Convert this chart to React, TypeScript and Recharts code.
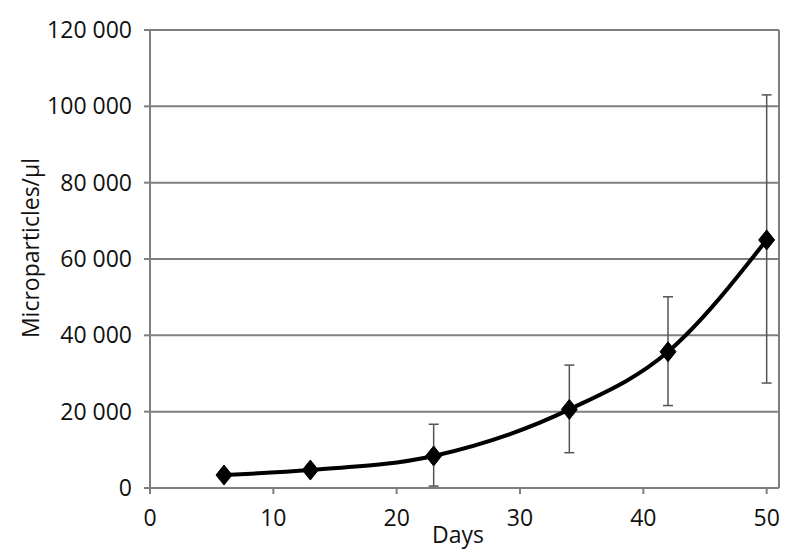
import React from 'react';
import { LineChart, Line, XAxis, YAxis, CartesianGrid, ErrorBar, ReferenceLine, Label } from 'recharts';

const days = [6, 13, 23, 34, 42, 50];
const values = [3400, 4700, 8400, 20600, 35700, 65000];
const errLow = [1000, 1000, 7900, 11350, 14100, 37500];
const errHigh = [1000, 1000, 8300, 11600, 14400, 38000];
const xTicks = [0, 10, 20, 30, 40, 50];
const yTicks = [0, 20000, 40000, 60000, 80000, 100000, 120000];
const xMax = 51;
const yMax = 120000;

const data = days.map((d, i) => ({ day: d, value: values[i], err: [errLow[i], errHigh[i]] }));

const FONT = '"Open Sans", sans-serif';
const FS = 23;
const fmt = (v: number) => String(v).replace(/\B(?=(\d{3})+(?!\d))/g, ' ');

const Diamond = (props: any) => {
  const { cx, cy } = props;
  if (cx == null || cy == null) return null;
  const hw = 8;
  const hh = 10;
  return (
    <polygon
      points={`${cx},${cy - hh} ${cx + hw},${cy} ${cx},${cy + hh} ${cx - hw},${cy}`}
      fill="#000"
      stroke="#000"
      strokeWidth={1}
    />
  );
};

const YLabel = () => (
  <text x={30} y={248} transform="rotate(-90 30 248)" textAnchor="middle" dominantBaseline="central" fontFamily={FONT} fontSize={FS} fill="#111">
    Microparticles/μl
  </text>
);

const XLabel = () => (
  <text x={458} y={534} textAnchor="middle" dominantBaseline="central" fontFamily={FONT} fontSize={FS} fill="#111">
    Days
  </text>
);

export default function App() {
  return (
    <div style={{ position: 'absolute', left: 0, top: 0, width: 800, height: 559, background: '#fff' }}>
      <LineChart width={800} height={559} data={data} margin={{ top: 30, right: 21, left: 0, bottom: 0 }}>
        <CartesianGrid vertical={false} stroke="#7f7f7f" strokeWidth={2} />
        <XAxis
          dataKey="day"
          type="number"
          domain={[0, xMax]}
          ticks={xTicks}
          height={71}
          tickSize={6}
          tickMargin={16}
          stroke="#7f7f7f"
          strokeWidth={2}
          tick={{ fill: '#111', fontFamily: FONT, fontSize: FS }}
          allowDataOverflow
        >
          <Label content={<XLabel />} />
        </XAxis>
        <YAxis
          type="number"
          domain={[0, yMax]}
          ticks={yTicks}
          width={150}
          tickSize={6}
          tickMargin={12}
          tickFormatter={fmt}
          stroke="#7f7f7f"
          strokeWidth={2}
          tick={{ fill: '#111', fontFamily: FONT, fontSize: FS }}
        >
          <Label content={<YLabel />} />
        </YAxis>
        <ReferenceLine x={xMax} stroke="#7f7f7f" strokeWidth={2} />
        <Line
          type="monotone"
          dataKey="value"
          stroke="#000"
          strokeWidth={4}
          dot={<Diamond />}
          activeDot={false}
          isAnimationActive={false}
        >
          <ErrorBar dataKey="err" width={5} stroke="#555" strokeWidth={1.5} direction="y" />
        </Line>
      </LineChart>
    </div>
  );
}
